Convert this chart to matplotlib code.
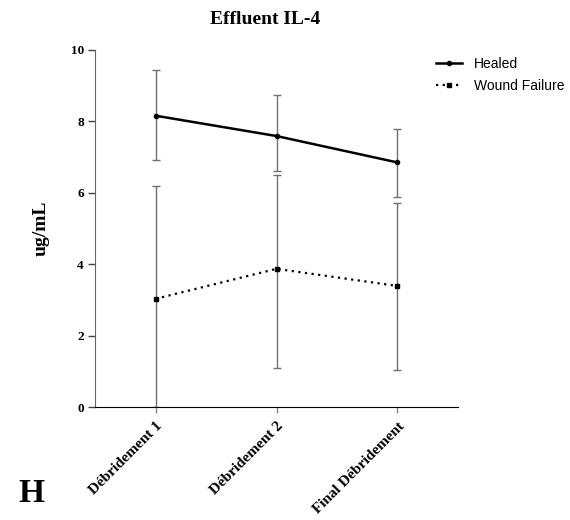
import matplotlib
matplotlib.use("Agg")
import matplotlib.pyplot as plt

# data
categories = ["Débridement 1", "Débridement 2", "Final Débridement"]
healed_mean = [8.16, 7.59, 6.85]
healed_upper = [9.45, 8.73, 7.80]
healed_lower = [6.91, 6.61, 5.89]
failure_mean = [3.03, 3.87, 3.39]
failure_upper = [6.19, 6.50, 5.72]
failure_lower = [0.0, 1.09, 1.05]

serif = ["Liberation Serif", "DejaVu Serif"]
sans = ["Liberation Sans", "DejaVu Sans"]

fig = plt.figure(figsize=(5.7, 5.2), dpi=100)
ax = fig.add_axes([95 / 570, 1 - 407 / 520, (458 - 95) / 570, (407 - 50) / 520])

x = list(range(len(categories)))


def err(mean, upper, lower):
    return [[m - l for m, l in zip(mean, lower)], [u - m for m, u in zip(mean, upper)]]


ax.errorbar(x, healed_mean, yerr=err(healed_mean, healed_upper, healed_lower),
            fmt="none", ecolor="#707070", elinewidth=1.0, capsize=3, capthick=1.0, zorder=1)
ax.errorbar(x, failure_mean, yerr=err(failure_mean, failure_upper, failure_lower),
            fmt="none", ecolor="#707070", elinewidth=1.0, capsize=3, capthick=1.0, zorder=1)

ax.plot(x, healed_mean, color="black", lw=1.8, marker="o", ms=3, label="Healed", zorder=3)
ax.plot(x, failure_mean, color="black", lw=1.6, ls=(0, (1, 2)), marker="s", ms=3.5,
        label="Wound Failure", zorder=3)

ax.set_xlim(-0.5, 2.5)
ax.set_ylim(0, 10)
ax.set_yticks([0, 2, 4, 6, 8, 10])
ax.set_xticks(x)
ax.set_xticklabels(categories, rotation=45, ha="right", rotation_mode="anchor",
                   fontfamily=serif, fontweight="bold", fontsize=11)
for lab in ax.get_yticklabels():
    lab.set_fontfamily(serif)
    lab.set_fontweight("bold")
    lab.set_fontsize(9.5)

ax.spines["top"].set_visible(False)
ax.spines["right"].set_visible(False)
ax.spines["left"].set_color("#666666")
ax.tick_params(axis="y", direction="out", length=5, width=1, color="#444444", pad=3)
ax.tick_params(axis="x", direction="out", length=4, width=1, color="#888888", pad=5)

ax.set_ylabel("ug/mL", fontfamily=serif, fontweight="bold", fontsize=14, labelpad=15)
fig.text(265 / 570, 1 - 20 / 520, "Effluent IL-4", fontfamily=serif, fontweight="bold",
         fontsize=14, ha="center", va="center")

leg = fig.legend(*ax.get_legend_handles_labels(), loc="upper left",
                 bbox_to_anchor=(436 / 570, 1 - 57 / 520), frameon=False,
                 prop={"family": sans, "size": 10}, handlelength=1.9, labelspacing=0.55,
                 borderpad=0.0, borderaxespad=0.0, handletextpad=0.8)

fig.text(31 / 570, 1 - 493 / 520, "H", fontfamily=serif, fontweight="bold", fontsize=24,
         ha="center", va="center")

fig.savefig("out.png", dpi=100)
